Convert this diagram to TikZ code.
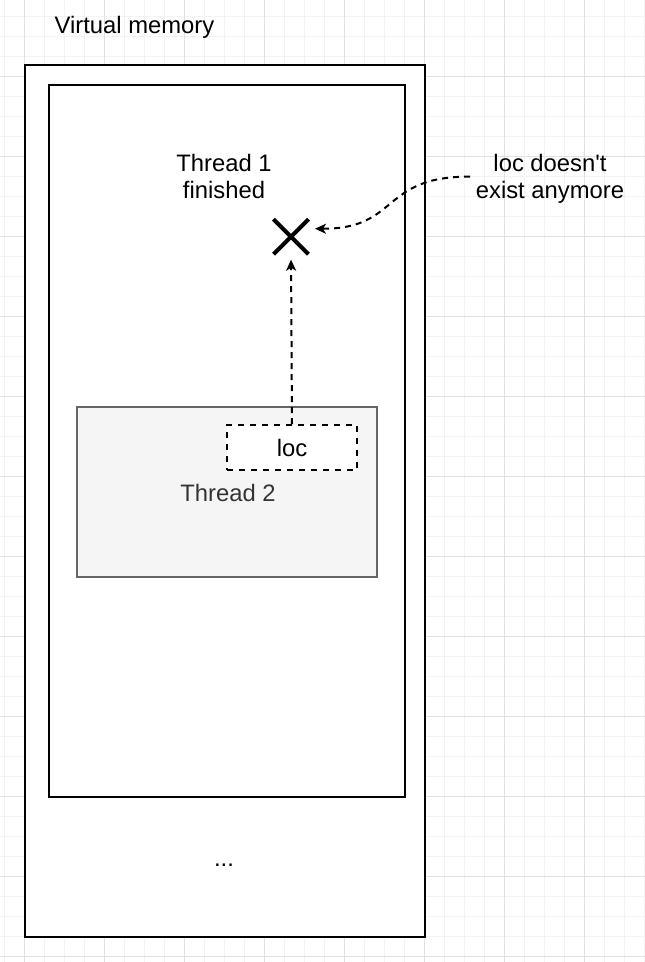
\documentclass[tikz,border=0pt]{standalone}
\usepackage{fontspec}
\setmainfont{Liberation Sans}
\usetikzlibrary{arrows.meta,shapes.misc}
\definecolor{gridminor}{HTML}{F3F3F3}
\definecolor{gridmajor}{HTML}{E0E0E0}
\definecolor{tfill}{HTML}{F5F5F5}
\definecolor{tdraw}{HTML}{666666}
\definecolor{ttext}{HTML}{333333}
\tikzset{
  lbl/.style={font=\fontsize{23.8}{26.7}\selectfont, inner sep=0pt, align=center},
  box/.style={draw=black, line width=2pt, fill=white, inner sep=0pt},
  dashbox/.style={draw=black, line width=2pt, fill=white, dash pattern=on 6pt off 6pt, inner sep=0pt},
  conn/.style={line width=2pt, dash pattern=on 6pt off 5pt, -{Stealth[length=11pt,width=10pt,inset=3pt]}},
}
\begin{document}
\begin{tikzpicture}[x=1pt,y=-1pt]
\useasboundingbox (0,0) rectangle (645,962);
\fill[white] (0,0) rectangle (645,962);
% grid
\foreach \gx in {4,24,...,644} \draw[gridminor, line width=1pt] (\gx,0) -- (\gx,962);
\foreach \gy in {16,36,...,956} \draw[gridminor, line width=1pt] (0,\gy) -- (645,\gy);
\foreach \gx in {24,104,...,584} \draw[gridmajor, line width=1pt] (\gx,0) -- (\gx,962);
\foreach \gy in {76,156,...,956} \draw[gridmajor, line width=1pt] (0,\gy) -- (645,\gy);

\node[lbl, anchor=base] (title) at (134.5,33) {Virtual memory};
\node[box, minimum width=400pt, minimum height=872pt] (vm) at (225,501) {};
\node[box, minimum width=356pt, minimum height=712pt] (mem) at (227,441) {};
\node[draw=tdraw, fill=tfill, line width=2pt, minimum width=300pt, minimum height=170pt, inner sep=0pt] (t2) at (227,492) {};
\node[lbl, anchor=base, text=ttext] (t2lbl) at (228,501.7) {Thread 2};
\node[dashbox, lbl, minimum width=130pt, minimum height=45pt] (loc) at (292,447.5) {loc};
\node[lbl, anchor=base] (t1) at (224,198.4) {Thread 1\\finished};
\node[cross out, draw=black, line width=4pt, minimum size=31pt, inner sep=0pt] (x) at (291,236.7) {};
\node[lbl, anchor=base] (lde) at (550,198.3) {loc doesn\textquotesingle t\\exist anymore};
\node[lbl, anchor=base] (dots) at (224,866) {...};
\coordinate (ldeL) at (470,176.7);

\draw[conn, shorten >=5.5pt] (loc.north) -- (x.south);
\draw[conn] (ldeL) .. controls (380,176) and (400,229) .. ([xshift=6.5pt,yshift=8pt]x.east);
\end{tikzpicture}
\end{document}
